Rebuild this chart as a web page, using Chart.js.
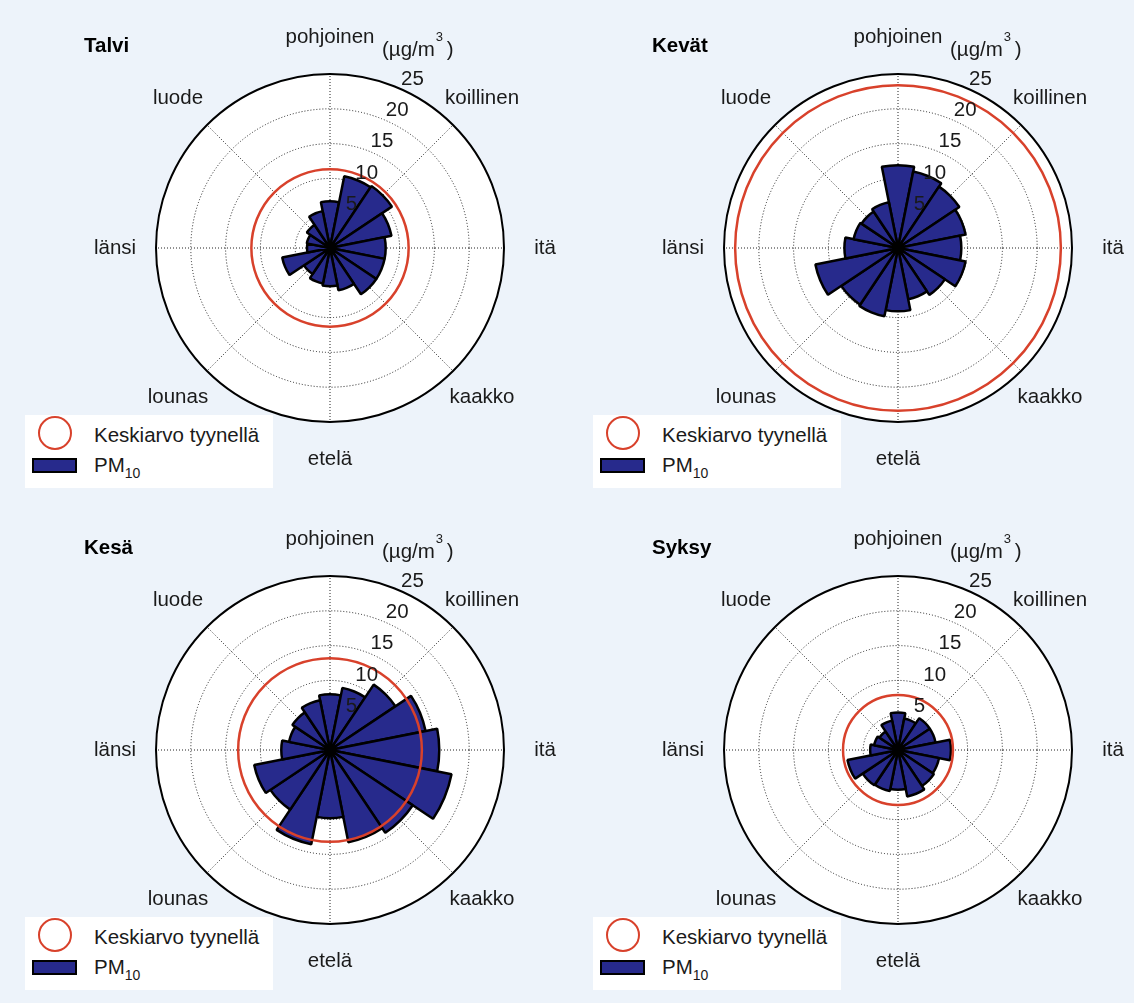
<!DOCTYPE html>
<html lang="fi">
<head>
<meta charset="utf-8">
<title>PM10 tuuliruusut vuodenajoittain</title>
<script src="https://cdn.jsdelivr.net/npm/chart.js@4.4.1/dist/chart.umd.min.js"></script>
<style>
  body { margin: 0; background: #edf3fa; font-family: "Liberation Sans", Arial, Helvetica, sans-serif; color: #1a1a1a; }
  #sivu { position: relative; width: 1134px; height: 1003px; overflow: hidden; }
  .paneeli { position: absolute; width: 566px; height: 501px; }
  .paneeli canvas { position: absolute; left: 0; top: 0; }
  .otsikko { position: absolute; left: 84px; top: 34px; font-size: 20.5px; font-weight: bold; line-height: 22px; color: #000; }
  .selite { position: absolute; left: 25px; top: 415px; width: 248px; height: 73px; background: #fff; font-size: 20.5px; }
  .selite .ympyra { position: absolute; left: 13px; top: 1px; width: 34px; height: 34px; box-sizing: border-box; border: 2.5px solid #d8412b; border-radius: 50%; }
  .selite .laatikko { position: absolute; left: 7px; top: 43px; width: 45px; height: 15px; box-sizing: border-box; border: 2px solid #000; background: #272a8c; }
  .selite .teksti { position: absolute; left: 69px; line-height: 20px; white-space: nowrap; }
  .selite sub { font-size: 14px; vertical-align: -6px; line-height: 0; }
</style>
</head>
<body>
<div id="sivu"></div>
<script>
'use strict'
// 16 sectors, clockwise from north
var suunnat = ['P', 'PKo', 'Ko', 'IKo', 'I', 'IKa', 'Ka', 'EKa', 'E', 'ELo', 'Lo', 'LLo', 'L', 'LLu', 'Lu', 'PLu'];
var ilmansuunnat = ['pohjoinen', 'koillinen', 'itä', 'kaakko', 'etelä', 'lounas', 'länsi', 'luode'];
var asteikko = [0, 5, 10, 15, 20, 25];
var yksikko = '(µg/m';

var vuodenajat = ['Talvi', 'Kevät', 'Kesä', 'Syksy'];
var talvi = [6.7, 10.5, 10.7, 9.0, 8.0, 8.0, 8.0, 6.2, 5.5, 5.2, 4.5, 7.0, 3.3, 3.4, 4.0, 5.4];
var kevat = [11.9, 11.2, 10.6, 9.9, 9.1, 9.9, 8.1, 7.5, 9.1, 10.0, 9.8, 12.1, 7.7, 6.5, 6.3, 6.7];
var kesa = [8.0, 9.1, 11.3, 14.0, 15.7, 17.8, 14.3, 13.5, 9.8, 13.8, 10.3, 11.1, 7.0, 6.0, 6.5, 7.3];
var syksy = [5.4, 4.6, 5.5, 5.5, 7.6, 6.0, 6.2, 6.8, 5.7, 6.0, 6.1, 7.4, 4.0, 3.5, 3.2, 4.3];
// Keskiarvo tyynellä
var tyyni = [11.3, 23.4, 13.2, 7.9];

var sarjat = [talvi, kevat, kesa, syksy];
var paikat = [[0, 0], [568, 0], [0, 502], [568, 502]];

var FONTTI = '20.5px "Liberation Sans", Arial, sans-serif';
var maksimi = asteikko[asteikko.length - 1];
var PISTE = [1, 2];

var koristeet = {
  id: 'koristeet',
  afterDatasetsDraw: function (chart, args, opts) {
    var s = chart.scales.r;
    var ctx = chart.ctx;
    var cx = s.xCenter;
    var cy = s.yCenter;
    ctx.save();

    ctx.beginPath();
    ctx.arc(cx, cy, s.getDistanceFromCenterForValue(opts.tyyni), 0, Math.PI * 2);
    ctx.strokeStyle = '#d8412b';
    ctx.lineWidth = 2.5;
    ctx.stroke();

    ctx.font = FONTTI;
    ctx.fillStyle = '#1a1a1a';
    ctx.textAlign = 'center';
    ctx.textBaseline = 'middle';
    var a = 26 * Math.PI / 180;
    s.ticks.forEach(function (t) {
      if (t.value === 0) return;
      var r = s.getDistanceFromCenterForValue(t.value) + 14;
      ctx.fillText(t.label, cx + r * Math.sin(a), cy - r * Math.cos(a));
    });

    var R = s.getDistanceFromCenterForValue(maksimi);
    ilmansuunnat.forEach(function (nimi, i) {
      var b = i * 2 * Math.PI / ilmansuunnat.length;
      ctx.fillText(nimi, cx + (R + 41) * Math.sin(b), cy - (R + 37) * Math.cos(b));
    });

    // (µg/m3)
    ctx.textAlign = 'left';
    ctx.textBaseline = 'alphabetic';
    var x = cx + 52;
    var y = cy - 192;
    ctx.fillText(yksikko, x, y);
    var w = ctx.measureText(yksikko).width;
    ctx.font = '13px "Liberation Sans", Arial, sans-serif';
    ctx.fillText('3', x + w + 1, y - 15);
    ctx.font = FONTTI;
    ctx.fillText(')', x + w + 12, y);
    ctx.restore();
  }
};

function teePaneeli(i) {
  var sivu = document.getElementById('sivu');
  var p = document.createElement('div');
  p.className = 'paneeli';
  p.style.left = paikat[i][0] + 'px';
  p.style.top = paikat[i][1] + 'px';
  sivu.appendChild(p);

  var canvas = document.createElement('canvas');
  canvas.width = 566;
  canvas.height = 501;
  p.appendChild(canvas);

  var otsikko = document.createElement('div');
  otsikko.className = 'otsikko';
  otsikko.textContent = vuodenajat[i];
  p.appendChild(otsikko);

  var selite = document.createElement('div');
  selite.className = 'selite';
  selite.innerHTML = '<span class="ympyra"></span><span class="teksti" style="top:10px">Keskiarvo tyynellä</span>' +
    '<span class="laatikko"></span><span class="teksti" style="top:40px">PM<sub>10</sub></span>';
  p.appendChild(selite);

  new Chart(canvas.getContext('2d'), {
    type: 'polarArea',
    data: {
      labels: suunnat,
      datasets: [{
        label: 'PM10',
        data: sarjat[i],
        rAxisID: 'r',
        backgroundColor: '#272a8c',
        borderColor: '#000',
        borderWidth: 2.5
      }]
    },
    options: {
      responsive: false,
      animation: false,
      events: [],
      layout: { padding: { left: 156, top: 74, right: 62, bottom: 79 } },
      plugins: {
        legend: { display: false },
        tooltip: { enabled: false },
        koristeet: { tyyni: tyyni[i] }
      },
      scales: {
        r: {
          min: asteikko[0],
          max: maksimi,
          startAngle: -360 / suunnat.length / 2,
          backgroundColor: '#fff',
          grid: {
            circular: true,
            z: -2,
            color: function (c) { return c.tick && c.tick.value === maksimi ? '#000' : '#222'; },
            lineWidth: function (c) { return c.tick && c.tick.value === maksimi ? 2 : 1; }
          },
          border: {
            dash: function (c) { return c.tick && c.tick.value === maksimi ? [] : PISTE; }
          },
          angleLines: { display: false },
          pointLabels: { display: false },
          ticks: { display: false, stepSize: asteikko[1] - asteikko[0] }
        },
        suunta: {
          type: 'radialLinear',
          axis: 'r',
          min: asteikko[0],
          max: maksimi,
          startAngle: 0,
          labels: ilmansuunnat,
          grid: { display: false, z: -1 },
          angleLines: { display: true, color: '#222', lineWidth: 1, borderDash: PISTE },
          pointLabels: { display: false },
          ticks: { display: false }
        }
      }
    },
    plugins: [koristeet]
  });
}

for (var i = 0; i < vuodenajat.length; i++) {
  teePaneeli(i);
}
</script>
</body>
</html>
